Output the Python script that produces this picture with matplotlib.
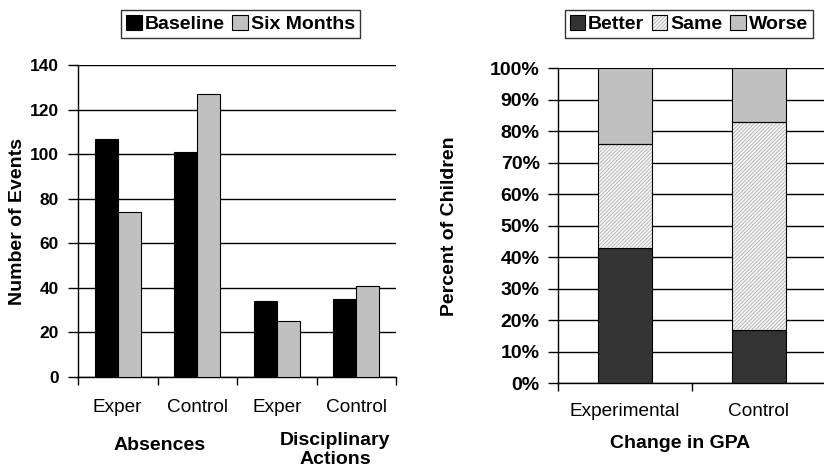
import matplotlib
matplotlib.use("Agg")
import matplotlib.pyplot as plt
import numpy as np
from matplotlib.patches import Patch
from matplotlib.legend_handler import HandlerTuple

plt.rcParams['font.family'] = ['Liberation Sans', 'DejaVu Sans']
plt.rcParams['hatch.linewidth'] = 0.6

# Left chart data
left_cats = ["Exper", "Control", "Exper", "Control"]
left_groups = ["Absences", "Disciplinary\nActions"]
baseline = [107, 101, 34, 35]
six_months = [74, 127, 25, 41]
left_series = ["Baseline", "Six Months"]

# Right chart data (percent)
right_cats = ["Experimental", "Control"]
better = [43, 17]
same = [33, 66]
worse = [24, 17]
right_series = ["Better", "Same", "Worse"]

W, H = 824, 466
fig = plt.figure(figsize=(W / 100, H / 100), dpi=100)

HATCH = '/////////'
HATCH_COL = '#b4b4b4'

# ---------------- Left chart ----------------
axL = fig.add_axes([78 / W, 1 - 377 / H, (396 - 78) / W, (377 - 65) / H])
x = np.arange(len(left_cats))
bw = 0.29
axL.bar(x - bw / 2, baseline, bw, color='black', edgecolor='black', lw=0.8, zorder=3)
axL.bar(x + bw / 2, six_months, bw, color='#c0c0c0', edgecolor='black', lw=0.8, zorder=3)
axL.set_xlim(-0.5, len(left_cats) - 0.5)
axL.set_ylim(0, 140)
axL.set_yticks(np.arange(0, 141, 20))
axL.yaxis.grid(True, color='black', lw=1.0, zorder=0)
axL.set_axisbelow(True)
for s in ['top', 'right']:
    axL.spines[s].set_visible(False)
for s in ['left', 'bottom']:
    axL.spines[s].set_linewidth(1.0)
axL.set_xticks(x)
axL.set_xticklabels(left_cats, fontsize=13.7)
axL.tick_params(axis='x', which='major', length=0, pad=16)
axL.set_xticks(np.arange(-0.5, len(left_cats), 1), minor=True)
axL.tick_params(axis='x', which='minor', length=6, width=1.0, direction='out')
axL.tick_params(axis='y', length=7, width=1.0, pad=7, labelsize=12.5)
for t in axL.get_yticklabels():
    t.set_fontweight('bold')
axL.set_ylabel("Number of Events", fontsize=14, fontweight='bold')
axL.yaxis.label.set_va('center')
axL.yaxis.set_label_coords((18 - 78) / 318, 0.497)
axL.text((160 - 78) / 318, -(445 - 377) / 312, left_groups[0], transform=axL.transAxes,
         ha='center', va='center', fontsize=14, fontweight='bold')
axL.text((335 - 78) / 318, -(432 - 377) / 312, left_groups[1], transform=axL.transAxes,
         ha='center', va='top', fontsize=14, fontweight='bold', linespacing=1.15)

hL = [Patch(facecolor='black', edgecolor='black', lw=0.8),
      Patch(facecolor='#c0c0c0', edgecolor='black', lw=0.8)]
legL = fig.legend(hL, left_series, loc='center', bbox_to_anchor=(240.5 / W, 1 - 24 / H),
                  ncol=2, frameon=True, fancybox=False, edgecolor='black',
                  prop={'size': 14, 'weight': 'bold'}, handlelength=0.8, handleheight=0.8,
                  handletextpad=0.15, columnspacing=0.4, borderpad=0.25, borderaxespad=0)
legL.get_frame().set_linewidth(1.0)

# ---------------- Right chart ----------------
axR = fig.add_axes([557.7 / W, 1 - 383.3 / H, 268 / W, (383.3 - 68.3) / H])
xr = np.arange(len(right_cats))
bwr = 0.405
b1 = np.array(better)
b2 = np.array(same)
b3 = np.array(worse)
axR.bar(xr, b1, bwr, color='#333333', edgecolor='black', lw=0.8, zorder=3)
axR.bar(xr, b2, bwr, bottom=b1, color='#f4f4f4', edgecolor=HATCH_COL, lw=0, hatch=HATCH, zorder=3)
axR.bar(xr, b2, bwr, bottom=b1, fill=False, edgecolor='black', lw=0.8, zorder=4)
axR.bar(xr, b3, bwr, bottom=b1 + b2, color='#c0c0c0', edgecolor='black', lw=0.8, zorder=3)
axR.set_xlim(-0.5, len(right_cats) - 0.5)
axR.set_ylim(0, 100)
axR.set_yticks(np.arange(0, 101, 10))
axR.set_yticklabels([f"{v}%" for v in range(0, 101, 10)])
axR.yaxis.grid(True, color='black', lw=1.0, zorder=0)
axR.set_axisbelow(True)
for s in ['top', 'right']:
    axR.spines[s].set_visible(False)
for s in ['left', 'bottom']:
    axR.spines[s].set_linewidth(1.0)
axR.set_xticks(xr)
axR.set_xticklabels(right_cats, fontsize=13.7)
axR.tick_params(axis='x', which='major', length=0, pad=14)
axR.set_xticks(np.arange(-0.5, len(right_cats), 1), minor=True)
axR.tick_params(axis='x', which='minor', length=6, width=1.0, direction='out')
axR.tick_params(axis='y', length=7, width=1.0, pad=6, labelsize=14)
for t in axR.get_yticklabels():
    t.set_fontweight('bold')
axR.set_ylabel("Percent of Children", fontsize=14, fontweight='bold')
axR.yaxis.label.set_va('center')
axR.yaxis.set_label_coords((450 - 557.7) / 268, 0.5)
axR.set_xlabel("Change in GPA", fontsize=14, fontweight='bold')
axR.xaxis.set_label_coords((680 - 557.7) / 268, -(444 - 383.3) / 315)
axR.xaxis.label.set_va('center')

hR = [Patch(facecolor='#333333', edgecolor='black', lw=0.8),
      (Patch(facecolor='#f4f4f4', edgecolor=HATCH_COL, lw=0, hatch=HATCH),
       Patch(fill=False, edgecolor='black', lw=0.8)),
      Patch(facecolor='#c0c0c0', edgecolor='black', lw=0.8)]
legR = fig.legend(hR, right_series, loc='center', bbox_to_anchor=(688.7 / W, 1 - 24 / H),
                  ncol=3, frameon=True, fancybox=False, edgecolor='black',
                  prop={'size': 14, 'weight': 'bold'}, handlelength=0.8, handleheight=0.8,
                  handletextpad=0.15, columnspacing=0.4, borderpad=0.25, borderaxespad=0,
                  handler_map={tuple: HandlerTuple(ndivide=1, pad=0)})
legR.get_frame().set_linewidth(1.0)

fig.savefig("out.png", dpi=100)
